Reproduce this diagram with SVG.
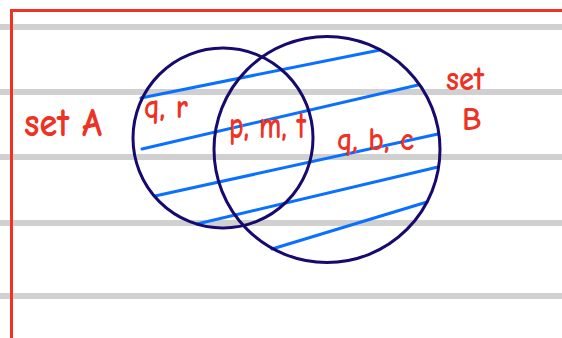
<svg xmlns="http://www.w3.org/2000/svg" width="562" height="338" viewBox="0 0 562 338">
<style>
.rule{stroke:#d0d0d0;stroke-width:6}
.border{stroke:#ee3224;stroke-width:3;fill:none}
.ring{fill:none;stroke:#170a6e;stroke-width:3}
.hatch{stroke:#0a70ff;stroke-width:3;stroke-linecap:round}
.lbl{fill:#ee3224;font-family:"Comic Neue","Liberation Sans",sans-serif;font-weight:bold}
</style>
<rect width="562" height="338" fill="#ffffff"/>
<g id="paper">
<line class="rule" x1="0" y1="27" x2="562" y2="27"/>
<line class="rule" x1="0" y1="92" x2="562" y2="92"/>
<line class="rule" x1="0" y1="157" x2="562" y2="157"/>
<line class="rule" x1="0" y1="223" x2="562" y2="223"/>
<line class="rule" x1="0" y1="296" x2="562" y2="296"/>
<polyline class="border" points="11.5,338 11.5,10.5 562,10.5"/>
</g>
<g id="hatching">
<line class="hatch" x1="141" y1="98" x2="380" y2="50"/>
<line class="hatch" x1="142" y1="149" x2="418" y2="85"/>
<line class="hatch" x1="155" y1="196" x2="438" y2="134"/>
<line class="hatch" x1="197" y1="224" x2="438" y2="167"/>
<line class="hatch" x1="272" y1="249" x2="427" y2="202"/>
</g>
<g id="setA">
<circle class="ring" cx="223" cy="138" r="90"/>
</g>
<g id="setB">
<circle class="ring" cx="327" cy="149.5" r="113"/>
</g>
<g id="labels">
<text id="labelA" class="lbl" x="24" y="136" style="font-size:40px" textLength="78" lengthAdjust="spacingAndGlyphs">set A</text>
<text id="labelSetB" class="lbl" x="446" y="90" style="font-size:34px" textLength="38" lengthAdjust="spacingAndGlyphs">set</text>
<text id="labelB" class="lbl" x="462" y="130" style="font-size:32px">B</text>
<text id="onlyA" class="lbl" x="144" y="118" style="font-size:34px" textLength="44" lengthAdjust="spacingAndGlyphs">q, r</text>
<text id="both" class="lbl" x="229" y="138" style="font-size:38px" textLength="77" lengthAdjust="spacingAndGlyphs">p, m, t</text>
<text id="onlyB" class="lbl" x="337" y="150" style="font-size:32px" textLength="77" lengthAdjust="spacingAndGlyphs">q, b, c</text>
</g>
</svg>
